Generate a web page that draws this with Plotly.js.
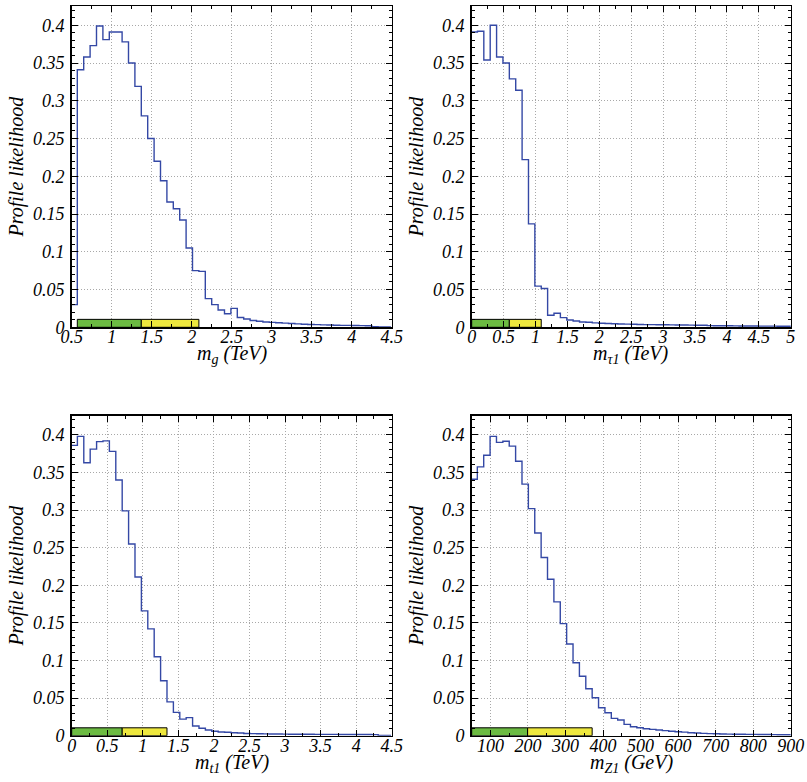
<!DOCTYPE html>
<html>
<head>
<meta charset="utf-8">
<script src="https://cdn.plot.ly/plotly-3.0.1.min.js"></script>
<style>html,body{margin:0;padding:0;background:#fff;}#chart{width:807px;height:782px;}</style>
</head>
<body>
<div id="chart"></div>
<script>
// ---- Data ----
// Panel 1: gluino mass (TeV)
const gluinoBinStart = 0.49, gluinoBinWidth = 0.08;
const gluinoValues = [0.030,0.341,0.358,0.373,0.399,0.381,0.391,0.391,0.378,0.350,
  0.319,0.280,0.250,0.220,0.194,0.166,0.157,0.142,0.105,0.075,
  0.074,0.038,0.030,0.023,0.018,0.025,0.013,0.011,0.009,0.008,
  0.007,0.0065,0.006,0.0055,0.005,0.0045,0.004,0.0038,0.0035,0.0032,
  0.003,0.0028,0.0026,0.0025,0.0024,0.0022,0.002,0.0008,0.0006,0.0005];
const gluinoGreen = [0.57, 1.37], gluinoYellow = [1.37, 2.09];

// Panel 2: stau mass (TeV)
const stauBinStart = -0.01, stauBinWidth = 0.1;
const stauValues = [0.391,0.392,0.354,0.400,0.358,0.350,0.329,0.314,0.222,0.137,
  0.0545,0.0514,0.016,0.0186,0.0128,0.0097,0.0084,0.007,0.0066,0.0058,
  0.0053,0.005,0.0047,0.0044,0.0042,0.004,0.0038,0.0036,0.0035,0.0034,
  0.0033,0.0032,0.0031,0.003,0.0029,0.0028,0.0027,0.0022,0.0021,0.002,
  0.002,0.0019,0.0018,0.0018,0.0017,0.0016,0.0015,0.0015,0.0014,0.0013,0.0013];
const stauGreen = [0, 0.59], stauYellow = [0.59, 1.09];

// Panel 3: stop mass (TeV)
const stopBinStart = -0.01, stopBinWidth = 0.09;
const stopValues = [0.386,0.398,0.363,0.381,0.391,0.392,0.378,0.340,0.299,0.255,
  0.211,0.166,0.142,0.105,0.073,0.045,0.031,0.022,0.024,0.0128,
  0.010,0.0075,0.006,0.005,0.0045,0.004,0.0035,0.003,0.0028,0.0025,
  0.0024,0.0023,0.0022,0.0021,0.002,0.002,0.0019,0.0019,0.0018,0.0018,
  0.0017,0.0017,0.0016,0.0016,0.0015,0.0015,0.0015,0.0014,0.0003,0.0002];
const stopGreen = [0, 0.71], stopYellow = [0.71, 1.34];

// Panel 4: lightest neutralino mass (GeV)
const neutBinStart = 48, neutBinWidth = 17;
const neutValues = [0.341,0.3575,0.373,0.398,0.390,0.3916,0.385,0.365,0.3345,0.302,
  0.2695,0.237,0.208,0.178,0.149,0.122,0.097,0.079,0.0624,0.0504,
  0.0372,0.0305,0.023,0.0208,0.015,0.012,0.0106,0.0093,0.0084,0.0075,
  0.0068,0.006,0.0053,0.0047,0.004,0.0035,0.0031,0.0028,0.0025,0.0023,
  0.0021,0.002,0.0019,0.0018,0.0017,0.0016,0.0015,0.0014,0.0013,0.0012,0.0011];
const neutGreen = [50, 199], neutYellow = [199, 371];

const intervalHeight = 0.0105;

const xTitles = ['m<sub>g</sub> (TeV)', 'm<sub>τ1</sub> (TeV)', 'm<sub>t1</sub> (TeV)', 'm<sub>Z1</sub> (GeV)'];
const yTitle = 'Profile likelihood';

// ---- Helpers ----
const LINE = 'rgb(52,72,165)';
const GREEN = 'rgb(108,187,66)';
const YELLOW = 'rgb(238,232,62)';

function stepTrace(start, width, vals, xa, ya) {
  const x = [], y = [];
  for (let i = 0; i < vals.length; i++) { x.push(start + i * width); y.push(vals[i]); }
  x.push(start + vals.length * width); y.push(vals[vals.length - 1]);
  return {type:'scatter', mode:'lines', x:x, y:y, line:{shape:'hv', color:LINE, width:1.4},
          xaxis:xa, yaxis:ya, hoverinfo:'skip'};
}
function boxTrace(iv, color, xa, ya) {
  return {type:'scatter', mode:'lines', x:[iv[0], iv[1], iv[1], iv[0], iv[0]],
          y:[0, 0, intervalHeight, intervalHeight, 0], fill:'toself', fillcolor:color,
          line:{color:'#000', width:1}, xaxis:xa, yaxis:ya, hoverinfo:'skip'};
}

const traces = [
  boxTrace(gluinoGreen, GREEN, 'x', 'y'), boxTrace(gluinoYellow, YELLOW, 'x', 'y'),
  stepTrace(gluinoBinStart, gluinoBinWidth, gluinoValues, 'x', 'y'),
  boxTrace(stauGreen, GREEN, 'x2', 'y2'), boxTrace(stauYellow, YELLOW, 'x2', 'y2'),
  stepTrace(stauBinStart, stauBinWidth, stauValues, 'x2', 'y2'),
  boxTrace(stopGreen, GREEN, 'x3', 'y3'), boxTrace(stopYellow, YELLOW, 'x3', 'y3'),
  stepTrace(stopBinStart, stopBinWidth, stopValues, 'x3', 'y3'),
  boxTrace(neutGreen, GREEN, 'x4', 'y4'), boxTrace(neutYellow, YELLOW, 'x4', 'y4'),
  stepTrace(neutBinStart, neutBinWidth, neutValues, 'x4', 'y4')
];

const FONT = 'Liberation Serif';
const tickFont = {family:FONT, size:18, color:'#000', style:'italic'};
const titleFont = {family:FONT, size:20, color:'#000', style:'italic'};
const GRID = {showgrid:true, gridcolor:'#a8a8a8', griddash:'1px,2px', gridwidth:1};

function xax(domain, anchor, range, dtick, minorDtick) {
  return Object.assign({domain:domain, anchor:anchor, range:range, dtick:dtick, tick0:0,
    showline:true, linecolor:'#000', linewidth:1.5, mirror:'allticks',
    ticks:'inside', ticklen:6, tickwidth:1, tickcolor:'#000',
    minor:{dtick:minorDtick, ticks:'inside', ticklen:3, tickcolor:'#000', showgrid:false},
    zeroline:false, tickfont:tickFont, automargin:false, ticklabelstandoff:-7}, GRID);
}
function yax(domain, anchor) {
  return Object.assign({domain:domain, anchor:anchor, range:[0, 0.4255], dtick:0.05, tick0:0,
    showline:true, linecolor:'#000', linewidth:1.5, mirror:'allticks',
    ticks:'inside', ticklen:6, tickwidth:1, tickcolor:'#000',
    minor:{dtick:0.01, ticks:'inside', ticklen:3, tickcolor:'#000', showgrid:false},
    zeroline:false, tickfont:tickFont, automargin:false, ticklabelstandoff:2,
    title:{text:yTitle, font:titleFont, standoff:4}}, GRID);
}

const dxL = [71.7/807, 391.7/807], dxR = [471.7/807, 790.7/807];
const dyT = [1 - 327.3/782, 1 - 6/782], dyB = [1 - 735.7/782, 1 - 415.7/782];

const annotations = ['x', 'x2', 'x3', 'x4'].map((xa, i) => ({
  text: xTitles[i], font: titleFont, showarrow:false,
  xref: xa + ' domain', yref: 'y' + (i ? i + 1 : '') + ' domain',
  x: 0.5, y: 0, xanchor:'center', yanchor:'top', yshift: -13
}));

const layout = {
  width:807, height:782, margin:{l:0, r:0, t:0, b:0},
  font:{family:FONT, color:'#000'},
  paper_bgcolor:'#fff', plot_bgcolor:'#fff', showlegend:false,
  xaxis: xax(dxL, 'y', [0.5, 4.5], 0.5, 0.25),
  yaxis: yax(dyT, 'x'),
  xaxis2: xax(dxR, 'y2', [0, 5], 0.5, 0.25),
  yaxis2: yax(dyT, 'x2'),
  xaxis3: xax(dxL, 'y3', [0, 4.5], 0.5, 0.25),
  yaxis3: yax(dyB, 'x3'),
  xaxis4: xax(dxR, 'y4', [50, 900], 100, 50),
  yaxis4: yax(dyB, 'x4'),
  annotations: annotations
};

Plotly.newPlot('chart', traces, layout, {displayModeBar:false, staticPlot:true});
</script>
</body>
</html>
